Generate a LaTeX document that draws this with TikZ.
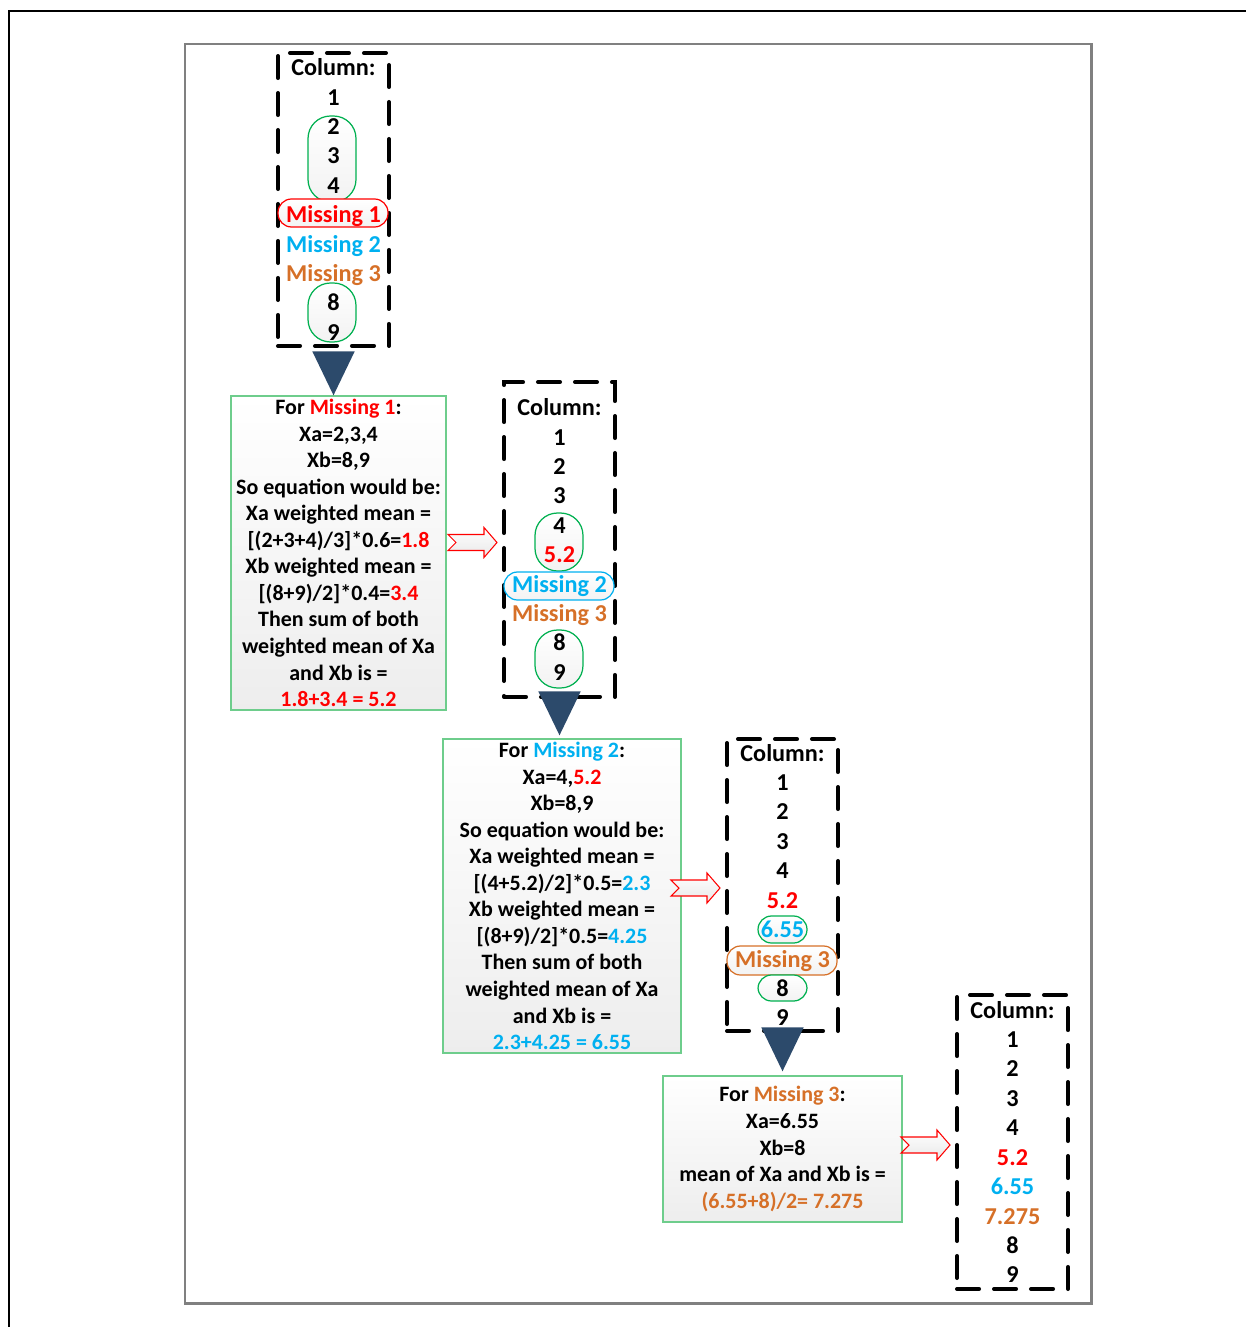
\documentclass[tikz,border=0pt]{standalone}
\usepackage{fontspec}
\setmainfont{Carlito}
\usetikzlibrary{calc, positioning, arrows.meta, backgrounds}
\definecolor{missred}{RGB}{255,0,0}
\definecolor{missblue}{RGB}{0,176,240}
\definecolor{missorange}{RGB}{214,112,40}
\definecolor{grpgreen}{RGB}{0,176,80}
\definecolor{boxgreen}{RGB}{110,205,140}
\definecolor{arrowblue}{RGB}{44,74,107}
\newcommand{\emphred}[1]{\textcolor{missred}{#1}}
\newcommand{\emphblue}[1]{\textcolor{missblue}{#1}}
\newcommand{\emphorange}[1]{\textcolor{missorange}{#1}}
% hollow red arrow, drawn from its notched tail
\newcommand{\hollowarrow}[1]{%
  \draw[rarr] ($(#1.west)+(-54,-5)$) -- ++(36,0) -- ++(0,-7) -- ++(13,15)
    -- ++(-13,15) -- ++(0,-7) -- ++(-36,0) -- ++(8,-8) -- cycle;}

\begin{document}
\begin{tikzpicture}[
    x=0.02cm, y=-0.02cm,
    colframe/.style={draw=black, line width=2.3pt, dash pattern=on 0.44cm off 0.3cm,
      line cap=round, minimum width=2.22cm, inner sep=0pt},
    coltext/.style={align=center, inner sep=0pt,
      font=\fontsize{13.8}{16.74}\selectfont\bfseries},
    calcbox/.style={draw=boxgreen, line width=0.8pt, top color=white, bottom color=gray!14,
      align=center, inner sep=0pt, font=\fontsize{12.5}{15.1}\selectfont\bfseries},
    pill/.style={line width=0.7pt, top color=white, bottom color=gray!10,
      rounded corners=0.27cm, inner sep=0pt},
    tallpill/.style={pill, rounded corners=0.45cm},
    downarr/.style={draw=arrowblue, line width=1pt, -{Triangle[length=0.88cm, width=0.84cm]}},
    rarr/.style={draw=missred, line width=0.6pt, top color=white, bottom color=gray!18},
  ]
  \useasboundingbox (0,0) rectangle (1246,1327);
  % page frame
  \draw[line width=0.8pt] (9,1327) -- (9,11) -- (1246,11);
  \draw[gray, line width=1.7pt] (185,44) rectangle (1091,1303);

  % first column
  \node[colframe, minimum height=5.86cm] (col1) at (333.5,199.5) {};
  \node[tallpill, draw=grpgreen, minimum width=0.96cm, minimum height=1.72cm] (g1a) at (332,159) {};
  \node[pill, draw=missred, minimum width=2.2cm, minimum height=0.56cm] (g1b) at (333,213) {};
  \node[tallpill, draw=grpgreen, minimum width=0.96cm, minimum height=1.18cm] (g1c) at (332,312.5) {};
  \node[coltext] (list1) at (col1.center) {Column:\\1\\2\\3\\4\\\emphred{Missing 1}\\
    \emphblue{Missing 2}\\\emphorange{Missing 3}\\8\\9};

  \node[calcbox, minimum width=4.3cm, minimum height=6.28cm] (box1) at (338.5,553) {%
    For \emphred{Missing 1}:\\Xa=2,3,4\\Xb=8,9\\So equation would be:\\Xa weighted mean =\\
    {[}(2+3+4)/3]*0.6=\emphred{1.8}\\Xb weighted mean =\\{[}(8+9)/2]*0.4=\emphred{3.4}\\
    Then sum of both\\weighted mean of Xa\\and Xb is =\\\emphred{1.8+3.4 = 5.2}};

  % second column
  \node[colframe, minimum height=6.3cm] (col2) at (559.5,539.5) {};
  \node[tallpill, draw=grpgreen, minimum width=0.96cm, minimum height=1.16cm] (g2a) at (559,542) {};
  \node[pill, draw=missblue, minimum width=2.2cm, minimum height=0.56cm] (g2b) at (559,586) {};
  \node[tallpill, draw=grpgreen, minimum width=0.96cm, minimum height=1.16cm] (g2c) at (559,659) {};
  \node[coltext] (list2) at (col2.center) {Column:\\1\\2\\3\\4\\\emphred{5.2}\\
    \emphblue{Missing 2}\\\emphorange{Missing 3}\\8\\9};

  \node[calcbox, minimum width=4.76cm, minimum height=6.28cm] (box2) at (562,896) {%
    For \emphblue{Missing 2}:\\Xa=4,\emphred{5.2}\\Xb=8,9\\So equation would be:\\Xa weighted mean =\\
    {[}(4+5.2)/2]*0.5=\emphblue{2.3}\\Xb weighted mean =\\{[}(8+9)/2]*0.5=\emphblue{4.25}\\
    Then sum of both\\weighted mean of Xa\\and Xb is =\\\emphblue{2.3+4.25 = 6.55}};

  % third column
  \node[colframe, minimum height=5.84cm] (col3) at (782.5,885) {};
  \node[pill, draw=grpgreen, minimum width=0.98cm, minimum height=0.54cm] (g3a) at (782.5,929.5) {};
  \node[pill, draw=missorange, minimum width=2.2cm, minimum height=0.58cm] (g3b) at (782,960.5) {};
  \node[pill, draw=grpgreen, minimum width=0.98cm, minimum height=0.52cm] (g3c) at (782.5,988) {};
  \node[coltext] (list3) at (col3.center) {Column:\\1\\2\\3\\4\\\emphred{5.2}\\
    \emphblue{6.55}\\\emphorange{Missing 3}\\8\\9};

  \node[calcbox, minimum width=4.78cm, minimum height=2.92cm] (box3) at (782.5,1149) {%
    For \emphorange{Missing 3}:\\Xa=6.55\\Xb=8\\mean of Xa and Xb is =\\
    \emphorange{(6.55+8)/2= 7.275}};

  % last column
  \node[colframe, minimum height=5.88cm] (col4) at (1012.5,1142) {};
  \node[coltext] (list4) at (col4.center) {Column:\\1\\2\\3\\4\\\emphred{5.2}\\
    \emphblue{6.55}\\\emphorange{7.275}\\8\\9};

  % connectors
  \draw[downarr] ([yshift=-0.08cm]col1.south) -- (col1.south |- box1.north);
  \draw[downarr] (col2.south) -- ($(col2.south |- box2.north)+(0,-3)$);
  \draw[downarr] (col3.south) -- ($(col3.south |- box3.north)+(0,-4)$);
  \hollowarrow{col2}
  \hollowarrow{col3}
  \hollowarrow{col4}
\end{tikzpicture}
\end{document}
